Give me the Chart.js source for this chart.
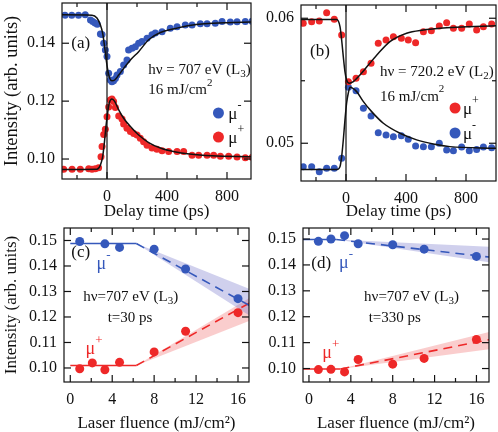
<!DOCTYPE html>
<html>
<head>
<meta charset="utf-8">
<script src="https://cdn.jsdelivr.net/npm/chart.js@4/dist/chart.umd.min.js"></script>
<style>
  body { margin: 0; background: #fff; }
  #wrap { position: relative; width: 498px; height: 432px; overflow: hidden; }
  .pane { position: absolute; }
</style>
</head>
<body>
<div id="wrap">
  <div class="pane" style="left:0;top:0"><canvas id="chartA" width="253" height="220"></canvas></div>
  <div class="pane" style="left:250px;top:0"><canvas id="chartB" width="248" height="220"></canvas></div>
  <div class="pane" style="left:0;top:220px"><canvas id="chartC" width="251" height="212"></canvas></div>
  <div class="pane" style="left:250px;top:220px"><canvas id="chartD" width="248" height="212"></canvas></div>
</div>
<script>
// ---- (a) hv = 707 eV (L3), delay scan ----
const tA_minus = [-280, -235, -190, -145, -110, -95, -80, -65, -44, -33, -22, -11, 0, 11, 22, 33, 44, 56, 67, 89, 111, 133, 144, 167, 189, 211, 233, 267, 300, 322, 367, 422, 467, 522, 567, 622, 667, 722, 767, 822, 867, 922, 967]
const yA_minus = [0.1497, 0.1497, 0.1497, 0.1498, 0.1480, 0.1475, 0.1470, 0.1466, 0.1432, 0.1430, 0.1400, 0.1377, 0.1354, 0.1296, 0.1273, 0.1267, 0.1270, 0.1278, 0.1290, 0.1302, 0.1325, 0.1342, 0.1377, 0.1383, 0.1388, 0.1400, 0.1406, 0.1417, 0.1429, 0.1435, 0.1440, 0.1452, 0.1457, 0.1463, 0.1463, 0.1467, 0.1467, 0.1469, 0.1475, 0.1473, 0.1474, 0.1475, 0.1476]
const tA_plus = [-289, -233, -178, -122, -100, -78, -56, -40, -33, -22, -11, 0, 11, 22, 33, 44, 56, 78, 100, 111, 133, 156, 178, 200, 222, 244, 267, 300, 333, 367, 411, 467, 511, 567, 611, 667, 711, 756, 811, 867, 922, 967]
const yA_plus = [0.0965, 0.0965, 0.0965, 0.0966, 0.0965, 0.0966, 0.0970, 0.1008, 0.1043, 0.1085, 0.1103, 0.1146, 0.1180, 0.1204, 0.1207, 0.1199, 0.1178, 0.1149, 0.1138, 0.1121, 0.1106, 0.1095, 0.1088, 0.1083, 0.1072, 0.1060, 0.1048, 0.1038, 0.1034, 0.1029, 0.1026, 0.1026, 0.1026, 0.1013, 0.1013, 0.1013, 0.1013, 0.1010, 0.1010, 0.1007, 0.1004, 0.1006]
// fit curves
const tA_fitMinus = [-300, -100, -67, -44, -29, -16, -5, 7, 18, 33, 51, 78, 111, 156, 211, 278, 356, 450, 550, 650, 800, 960]
const yA_fitMinus = [0.1498, 0.1497, 0.1487, 0.1463, 0.1435, 0.1388, 0.1342, 0.1302, 0.1279, 0.1270, 0.1273, 0.1290, 0.1313, 0.1342, 0.1371, 0.1412, 0.1437, 0.1450, 0.1461, 0.1467, 0.1471, 0.1473]
const tA_fitPlus = [-300, -67, -44, -29, -18, -7, 4, 15, 33, 51, 78, 111, 156, 211, 278, 356, 450, 550, 700, 960]
const yA_fitPlus = [0.0964, 0.0965, 0.0979, 0.1008, 0.1054, 0.1112, 0.1158, 0.1193, 0.1207, 0.1199, 0.1170, 0.1141, 0.1112, 0.1083, 0.1057, 0.1038, 0.1025, 0.1017, 0.1011, 0.1008]

// ---- (b) hv = 720.2 eV (L2), delay scan ----
const tB = [-285, -229, -178, -129, -78, -29, 16, 67, 116, 167, 215, 267, 316, 369, 415, 464, 516, 569, 622, 671, 716, 771, 822, 871, 916, 971]
const yB_plus = [0.05960, 0.05973, 0.05978, 0.06045, 0.05992, 0.05866, 0.05493, 0.05520, 0.05573, 0.05640, 0.05800, 0.05826, 0.05853, 0.05840, 0.05826, 0.05805, 0.05893, 0.05901, 0.05938, 0.05965, 0.05920, 0.05920, 0.05954, 0.05906, 0.05933, 0.05954]
const yB_minus = [0.04813, 0.04813, 0.04773, 0.04800, 0.04800, 0.04880, 0.05448, 0.05421, 0.05280, 0.05219, 0.05085, 0.05066, 0.05053, 0.05060, 0.05032, 0.04978, 0.04973, 0.04973, 0.05000, 0.04946, 0.04940, 0.04970, 0.04940, 0.04950, 0.04970, 0.04965]
const tB_fitPlus = [-300, -62, -40, -29, -18, -7, 4, 22, 49, 93, 149, 216, 293, 404, 516, 627, 738, 1000]
const yB_fitPlus = [0.0599, 0.0599, 0.05933, 0.05826, 0.05693, 0.05573, 0.05506, 0.0548, 0.05493, 0.05546, 0.05626, 0.0572, 0.05813, 0.0588, 0.05906, 0.0592, 0.05928, 0.0594]
const tB_fitMinus = [-300, -60, -40, -29, -18, -7, 4, 15, 27, 71, 116, 171, 249, 360, 471, 582, 693, 1000]
const yB_fitMinus = [0.0479, 0.0479, 0.04813, 0.04893, 0.05026, 0.05186, 0.0532, 0.054, 0.05448, 0.05413, 0.05333, 0.05253, 0.0516, 0.0508, 0.05027, 0.04994, 0.04973, 0.0496]

// ---- (c) fluence scan, t = 30 ps ----
const fC_minus = [0.9, 3.3, 4.7, 8, 11, 16]
const yC_minus = [0.1496, 0.1487, 0.1473, 0.1466, 0.1388, 0.1272]
const fC_plus = [0.9, 2.1, 3.3, 4.7, 8, 11, 16]
const yC_plus = [0.0997, 0.1020, 0.0993, 0.1022, 0.1063, 0.1144, 0.1217]
const fC_flat = [0, 6.3], fC_slope = [6.3, 17.1]
const yC_minusFlat = [0.1488, 0.1488], yC_minusSlope = [0.1488, 0.1245]
const yC_minusHi = [0.1488, 0.1310], yC_minusLo = [0.1488, 0.1205]
const yC_plusFlat = [0.1010, 0.1010], yC_plusSlope = [0.1010, 0.1255]
const yC_plusHi = [0.1010, 0.1275], yC_plusLo = [0.1010, 0.1185]

// ---- (d) fluence scan, t = 330 ps ----
const fD = [0.9, 2.1, 3.4, 4.7, 8, 11, 16]
const yD_minus = [0.1491, 0.1500, 0.1513, 0.1482, 0.1478, 0.1461, 0.1433]
const yD_plus = [0.0996, 0.0997, 0.0987, 0.1035, 0.1017, 0.1039, 0.1112]
const fD_minusFlat = [-0.6, 2.6], fD_minusSlope = [2.6, 17.3]
const yD_minusFlat = [0.1498, 0.1498], yD_minusSlope = [0.1498, 0.1430]
const yD_minusHi = [0.1498, 0.1470], yD_minusLo = [0.1498, 0.1410]
const fD_plusFlat = [-0.6, 3.0], fD_plusSlope = [3.0, 17.3]
const yD_plusFlat = [0.0998, 0.0998], yD_plusSlope = [0.0998, 0.1112]
const yD_plusHi = [0.0998, 0.1142], yD_plusLo = [0.0998, 0.1075]

// ticks
const xTicksDelay = [-200, 0, 200, 400, 600, 800]
const xLabelsDelay = [0, 400, 800]
const yTicksA = [0.10, 0.12, 0.14]
const yTicksB = [0.05, 0.055, 0.06]
const yLabelsB = [0.05, 0.06]
const xTicksFluence = [0, 2, 4, 6, 8, 10, 12, 14, 16]
const xLabelsFluence = [0, 4, 8, 12, 16]
const yTicksCD = [0.10, 0.11, 0.12, 0.13, 0.14, 0.15]

const FONT = "'Liberation Serif', 'DejaVu Serif', serif"
const BLUE = '#3558bb'
const RED = '#ee2828'
const INK = '#111'

const pts = (xs, ys) => xs.map((x, i) => ({ x, y: ys[i] }))
const has = (arr, v) => arr.some(a => Math.abs(a - v) < 1e-9)

function drawRuns(ctx, runs, x, y, size, color, align) {
    const parts = runs.map(([s, k]) => ({ s, k, f: k ? Math.round(size * 0.7) : size }))
    let w = 0
    parts.forEach(p => {
        ctx.font = p.f + 'px ' + FONT
        p.w = ctx.measureText(p.s).width
        w += p.w
    })
    let cx = align === 'center' ? x - w / 2 : x
    ctx.fillStyle = color
    ctx.textBaseline = 'middle'
    ctx.textAlign = 'left'
    parts.forEach(p => {
        ctx.font = p.f + 'px ' + FONT
        const dy = p.k === 'sup' ? -size * 0.5 : p.k === 'sub' ? size * 0.3 : 0
        ctx.fillText(p.s, cx, y + dy)
        cx += p.w
    })
}

// frame with inward ticks on all four sides + optional line at t = 0
const framePlugin = {
    id: 'frame',
    afterDatasetsDraw(chart, args, opts) {
        const { ctx, chartArea: a, scales: { x, y } } = chart
        ctx.save()
        ctx.strokeStyle = INK
        ctx.lineWidth = 1.2
        const seg = (x1, y1, x2, y2) => { ctx.beginPath(); ctx.moveTo(x1, y1); ctx.lineTo(x2, y2); ctx.stroke() }
        if (opts.zeroLine) {
            const px = x.getPixelForValue(0)
            seg(px, a.top, px, a.bottom)
        }
        ctx.strokeRect(a.left, a.top, a.right - a.left, a.bottom - a.top)
        x.ticks.forEach(t => {
            const px = x.getPixelForValue(t.value)
            const len = t.label ? 7 : 4
            seg(px, a.bottom, px, a.bottom - len)
            seg(px, a.top, px, a.top + len)
        })
        y.ticks.forEach(t => {
            const py = y.getPixelForValue(t.value)
            const len = t.label ? 7 : 4
            seg(a.left, py, a.left + len, py)
            seg(a.right, py, a.right - len, py)
        })
        ctx.restore()
    }
}

// panel texts and legend markers, placed in data units
const notesPlugin = {
    id: 'notes',
    afterDraw(chart, args, opts) {
        const { ctx, scales: { x, y } } = chart
        ctx.save();
        (opts.items || []).forEach(it => {
            const px = x.getPixelForValue(it.x), py = y.getPixelForValue(it.y)
            if (it.dot) {
                ctx.fillStyle = it.color
                ctx.beginPath(); ctx.arc(px, py, it.r, 0, Math.PI * 2); ctx.fill()
            } else {
                drawRuns(ctx, it.runs, px, py, it.size || 15, it.color || INK, it.align)
            }
        })
        ctx.restore()
    }
}

function scales(o) {
    return {
        x: {
            type: 'linear', min: o.xmin, max: o.xmax,
            afterBuildTicks: s => { s.ticks = o.xticks.map(v => ({ value: v })) },
            afterFit: s => { s.height = o.xh; s.paddingLeft = 0; s.paddingRight = 0 },
            grid: { display: false, drawTicks: false }, border: { display: false },
            ticks: { padding: 8, color: INK, autoSkip: false, maxRotation: 0, font: { family: FONT, size: 16 },
                callback: v => has(o.xlab, v) ? String(v) : '' },
            title: { display: true, text: o.xtitle, color: INK, padding: 0, font: { family: FONT, size: 17, lineHeight: 1 } }
        },
        y: {
            type: 'linear', min: o.ymin, max: o.ymax,
            afterBuildTicks: s => { s.ticks = o.yticks.map(v => ({ value: v })) },
            afterFit: s => { s.width = o.yw; s.paddingTop = 0; s.paddingBottom = 0 },
            grid: { display: false, drawTicks: false }, border: { display: false },
            ticks: { padding: 7, color: INK, autoSkip: false, font: { family: FONT, size: 16 },
                callback: v => has(o.ylab || o.yticks, v) ? v.toFixed(2) : '' },
            title: { display: !!o.ytitle, text: o.ytitle, color: INK, padding: 3, font: { family: FONT, size: o.ytsize || 17, lineHeight: 1 } }
        }
    }
}

const dots = (xs, ys, color, r) => ({ data: pts(xs, ys), backgroundColor: color, borderWidth: 0, pointRadius: r, order: 2 })
const fit = (xs, ys) => ({ data: pts(xs, ys), showLine: true, borderColor: INK, borderWidth: 1.5, pointRadius: 0, cubicInterpolationMode: 'monotone', order: 0 })
const line = (xs, ys, color, dash) => ({ data: pts(xs, ys), showLine: true, borderColor: color, borderWidth: 1.6, borderDash: dash || [], pointRadius: 0, order: 1 })
const bandHi = (xs, ys, fillColor) => ({ data: pts(xs, ys), showLine: true, borderWidth: 0, pointRadius: 0, fill: '+1', backgroundColor: fillColor, order: 3 })
const bandLo = (xs, ys) => ({ data: pts(xs, ys), showLine: true, borderWidth: 0, pointRadius: 0, fill: false, order: 3 })

function make(id, pad, sc, datasets, frame, notes) {
    return new Chart(document.getElementById(id), {
        type: 'scatter',
        data: { datasets },
        options: {
            responsive: false, animation: false,
            layout: { padding: { top: pad[0], right: pad[1], bottom: 0, left: 0 }, autoPadding: false },
            scales: sc,
            plugins: { legend: { display: false }, tooltip: { enabled: false }, frame, notes: { items: notes } }
        },
        plugins: [framePlugin, notesPlugin]
    })
}

const mu = (s) => [['μ'], [s, 'sup']]

make('chartA', [3, 2],
    scales({ xmin: -300, xmax: 960, xticks: xTicksDelay, xlab: xLabelsDelay, xh: 41, xtitle: 'Delay time (ps)',
        ymin: 0.0931, ymax: 0.1539, yticks: yTicksA, yw: 62, ytitle: 'Intensity (arb. units)', ytsize: 18.5 }),
    [fit(tA_fitMinus, yA_fitMinus), fit(tA_fitPlus, yA_fitPlus),
        dots(tA_minus, yA_minus, BLUE, 3.5), dots(tA_plus, yA_plus, RED, 3.5)],
    { zeroLine: true },
    [
        { x: -238, y: 0.1400, runs: [['(a)']], size: 17 },
        { x: 275, y: 0.1308, runs: [['hν = 707 eV (L'], ['3', 'sub'], [')']], size: 15 },
        { x: 275, y: 0.1238, runs: [['16 mJ/cm'], ['2', 'sup']], size: 15 },
        { dot: true, x: 743, y: 0.1159, color: BLUE, r: 5.5 },
        { x: 809, y: 0.1155, runs: mu('-'), size: 17 },
        { dot: true, x: 743, y: 0.1076, color: RED, r: 5.5 },
        { x: 809, y: 0.1072, runs: mu('+'), size: 17 }
    ])

make('chartB', [5, 2],
    scales({ xmin: -300, xmax: 1000, xticks: xTicksDelay, xlab: xLabelsDelay, xh: 39, xtitle: 'Delay time (ps)',
        ymin: 0.04698, ymax: 0.06106, yticks: yTicksB, ylab: yLabelsB, yw: 51 }),
    [fit(tB_fitPlus, yB_fitPlus), fit(tB_fitMinus, yB_fitMinus),
        dots(tB, yB_plus, RED, 3.5), dots(tB, yB_minus, BLUE, 3.5)],
    { zeroLine: true },
    [
        { x: -240, y: 0.0573, runs: [['(b)']], size: 17 },
        { x: 227, y: 0.05571, runs: [['hν = 720.2 eV (L'], ['2', 'sub'], [')']], size: 15 },
        { x: 227, y: 0.0537, runs: [['16 mJ/cm'], ['2', 'sup']], size: 15 },
        { dot: true, x: 727, y: 0.05282, color: RED, r: 5.5 },
        { x: 780, y: 0.0527, runs: mu('+'), size: 17 },
        { dot: true, x: 727, y: 0.05082, color: BLUE, r: 5.5 },
        { x: 780, y: 0.0507, runs: mu('-'), size: 17 }
    ])

make('chartC', [8, 2],
    scales({ xmin: -0.6, xmax: 17.05, xticks: xTicksFluence, xlab: xLabelsFluence, xh: 50, xtitle: 'Laser fluence (mJ/cm²)',
        ymin: 0.0945, ymax: 0.1549, yticks: yTicksCD, yw: 64, ytitle: 'Intensity (arb. units)', ytsize: 17 }),
    [dots(fC_minus, yC_minus, BLUE, 4.5), dots(fC_plus, yC_plus, RED, 4.5),
        line(fC_flat, yC_minusFlat, BLUE), line(fC_slope, yC_minusSlope, BLUE, [9, 6]),
        line(fC_flat, yC_plusFlat, RED), line(fC_slope, yC_plusSlope, RED, [9, 6]),
        bandHi(fC_slope, yC_minusHi, 'rgba(110,110,200,0.32)'), bandLo(fC_slope, yC_minusLo),
        bandHi(fC_slope, yC_plusHi, 'rgba(240,100,100,0.32)'), bandLo(fC_slope, yC_plusLo)],
    {},
    [
        { x: 0.1, y: 0.1451, runs: [['(c)']], size: 17 },
        { x: 2.5, y: 0.1405, runs: mu('-'), size: 18, color: BLUE },
        { x: 5.77, y: 0.1280, runs: [['hν=707 eV (L'], ['3', 'sub'], [')']], size: 15, align: 'center' },
        { x: 5.7, y: 0.1197, runs: [['t=30 ps']], size: 15, align: 'center' },
        { x: 1.46, y: 0.1072, runs: mu('+'), size: 18, color: RED }
    ])

make('chartD', [8, 9],
    scales({ xmin: -0.57, xmax: 17.2, xticks: xTicksFluence, xlab: xLabelsFluence, xh: 50, xtitle: 'Laser fluence (mJ/cm²)',
        ymin: 0.0948, ymax: 0.15426, yticks: yTicksCD, yw: 53 }),
    [dots(fD, yD_minus, BLUE, 4.5), dots(fD, yD_plus, RED, 4.5),
        line(fD_minusFlat, yD_minusFlat, BLUE), line(fD_minusSlope, yD_minusSlope, BLUE, [9, 6]),
        line(fD_plusFlat, yD_plusFlat, RED), line(fD_plusSlope, yD_plusSlope, RED, [9, 6]),
        bandHi(fD_minusSlope, yD_minusHi, 'rgba(110,110,200,0.32)'), bandLo(fD_minusSlope, yD_minusLo),
        bandHi(fD_plusSlope, yD_plusHi, 'rgba(240,100,100,0.32)'), bandLo(fD_plusSlope, yD_plusLo)],
    {},
    [
        { x: 0.23, y: 0.1407, runs: [['(d)']], size: 17 },
        { x: 2.87, y: 0.1407, runs: mu('-'), size: 18, color: BLUE },
        { x: 9.8, y: 0.1276, runs: [['hν=707 eV (L'], ['3', 'sub'], [')']], size: 15, align: 'center' },
        { x: 8.2, y: 0.1195, runs: [['t=330 ps']], size: 15, align: 'center' },
        { x: 1.28, y: 0.1058, runs: mu('+'), size: 18, color: RED }
    ])
</script>
</body>
</html>
